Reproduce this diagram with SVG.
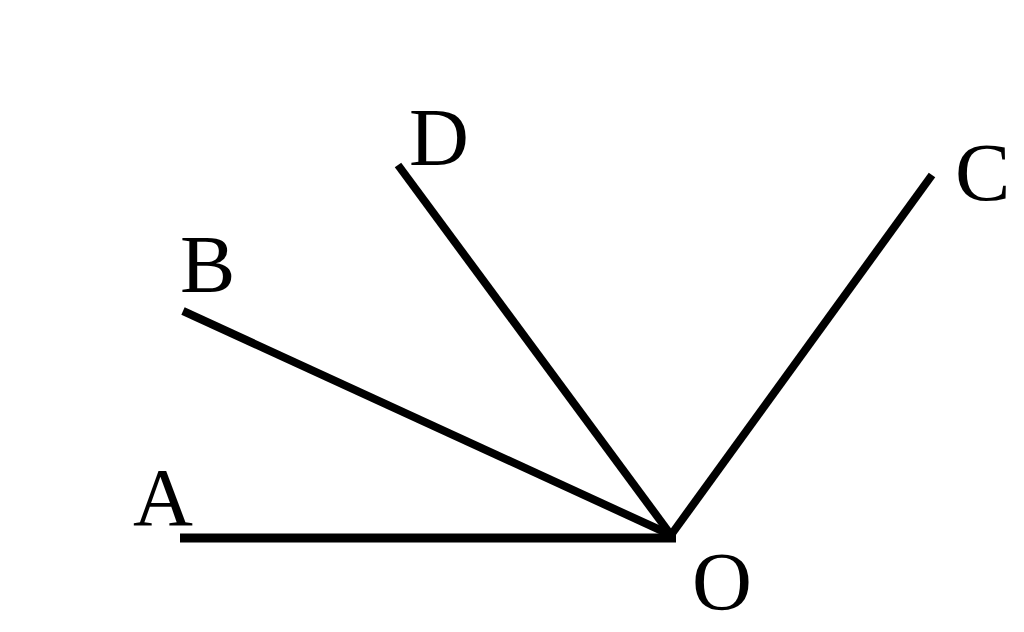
<svg xmlns="http://www.w3.org/2000/svg" width="1024" height="632" viewBox="0 0 1024 632">
<style>
.ray{stroke:#000;stroke-width:8;fill:none;stroke-linecap:butt}
.lbl{font-family:"Liberation Serif","Times New Roman",serif;font-size:83px;fill:#000}
</style>
<rect width="1024" height="632" fill="#fff"/>
<g id="connectors">
<line class="ray" x1="180" y1="538" x2="676" y2="538" style="stroke-width:9"/>
<line class="ray" x1="183" y1="311" x2="671" y2="535"/>
<line class="ray" x1="398" y1="165" x2="671" y2="535"/>
<line class="ray" x1="932" y1="175" x2="671" y2="535"/>
</g>
<g id="A"><text class="lbl" x="133" y="525">A</text></g>
<g id="B"><text class="lbl" x="180" y="292">B</text></g>
<g id="D"><text class="lbl" x="409" y="165">D</text></g>
<g id="C"><text class="lbl" x="955" y="200">C</text></g>
<g id="O"><text class="lbl" x="692" y="609">O</text></g>
</svg>
